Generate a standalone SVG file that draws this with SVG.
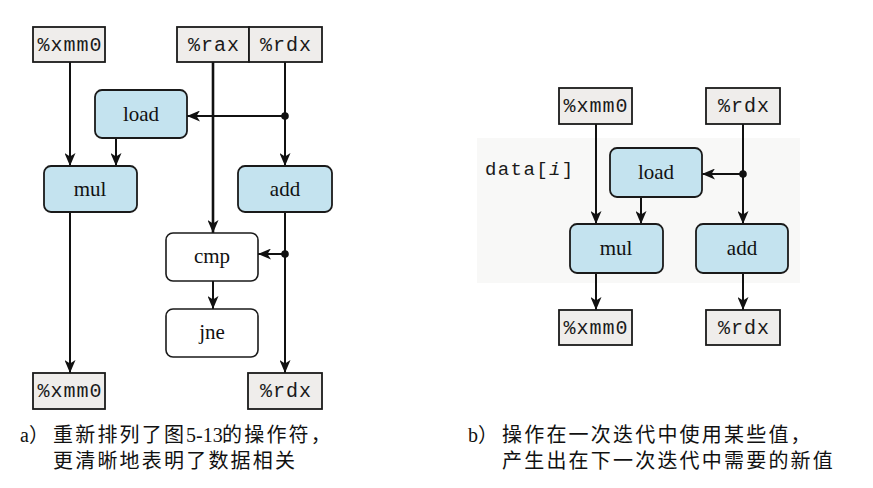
<svg xmlns="http://www.w3.org/2000/svg" width="873" height="488" viewBox="0 0 873 488">
<style>
.reg{fill:#efedeb;stroke:#1a1a1a;stroke-width:1.8}
.op{fill:#c4e3ef;stroke:#1a1a1a;stroke-width:1.8}
.opw{fill:#ffffff;stroke:#1a1a1a;stroke-width:1.6}
.rt{font-family:"Liberation Mono",monospace;font-size:20px;letter-spacing:1px;fill:#1a1a1a;text-anchor:middle}
.ot{font-family:"Liberation Serif",serif;font-size:21px;fill:#111;text-anchor:middle}
.cap{font-family:"Liberation Serif","Noto Sans CJK SC",serif;font-size:20px;fill:#111}
.cj{letter-spacing:2.2px}
.ln{stroke:#111;stroke-width:2;fill:none;marker-end:url(#ah)}
</style>
<defs>
<marker id="ah" viewBox="0 0 13 11" markerWidth="13" markerHeight="11" refX="13" refY="5.5" orient="auto" markerUnits="userSpaceOnUse">
<path d="M0,0 L13,5.5 L0,11 L3.5,5.5 Z" fill="#111"/>
</marker>
</defs>
<rect width="873" height="488" fill="#ffffff"/>
<rect x="477" y="138" width="323" height="145" fill="#f8f8f7"/>

<g id="connectors">
<line class="ln" x1="70" y1="62" x2="70" y2="166"/>
<line class="ln" x1="116" y1="138" x2="116" y2="166"/>
<line class="ln" x1="285" y1="62" x2="285" y2="166"/>
<line class="ln" x1="285" y1="116" x2="187" y2="116"/>
<line class="ln" x1="213" y1="62" x2="213" y2="233" style="stroke-width:2.6"/>
<line class="ln" x1="213" y1="281" x2="213" y2="309"/>
<line class="ln" x1="70" y1="212" x2="70" y2="373"/>
<line class="ln" x1="285" y1="212" x2="285" y2="373"/>
<line class="ln" x1="285" y1="254" x2="258" y2="254"/>
<circle cx="285" cy="116" r="3.8" fill="#111"/>
<circle cx="285" cy="254" r="3.8" fill="#111"/>

<line class="ln" x1="596" y1="124" x2="596" y2="224"/>
<line class="ln" x1="641" y1="197" x2="641" y2="224"/>
<line class="ln" x1="743" y1="124" x2="743" y2="224"/>
<line class="ln" x1="743" y1="174" x2="702" y2="174"/>
<line class="ln" x1="596" y1="273" x2="596" y2="310"/>
<line class="ln" x1="743" y1="273" x2="743" y2="310"/>
<circle cx="743" cy="174" r="3.8" fill="#111"/>
</g>

<g id="a-xmm0-in"><rect class="reg" x="33" y="27" width="72" height="35"/><text class="rt" x="70" y="51">%xmm0</text></g>
<g id="a-rax-in"><rect class="reg" x="177" y="27" width="72" height="35"/><text class="rt" x="214" y="51">%rax</text></g>
<g id="a-rdx-in"><rect class="reg" x="249" y="27" width="73" height="35"/><text class="rt" x="286" y="51">%rdx</text></g>
<g id="a-load"><rect class="op" x="95" y="90" width="92" height="48" rx="7"/><text class="ot" x="141" y="121">load</text></g>
<g id="a-mul"><rect class="op" x="44" y="166" width="93" height="46" rx="7"/><text class="ot" x="90" y="196">mul</text></g>
<g id="a-add"><rect class="op" x="238" y="166" width="94" height="46" rx="7"/><text class="ot" x="285" y="196">add</text></g>
<g id="a-cmp"><rect class="opw" x="166" y="233" width="92" height="48" rx="7"/><text class="ot" x="212" y="263">cmp</text></g>
<g id="a-jne"><rect class="opw" x="166" y="309" width="92" height="48" rx="7"/><text class="ot" x="212" y="339">jne</text></g>
<g id="a-xmm0-out"><rect class="reg" x="33" y="373" width="72" height="36"/><text class="rt" x="70" y="397">%xmm0</text></g>
<g id="a-rdx-out"><rect class="reg" x="248" y="373" width="74" height="36"/><text class="rt" x="286" y="397">%rdx</text></g>

<g id="b-xmm0-in"><rect class="reg" x="559" y="88" width="73" height="36"/><text class="rt" x="596" y="112">%xmm0</text></g>
<g id="b-rdx-in"><rect class="reg" x="706" y="88" width="74" height="36"/><text class="rt" x="744" y="112">%rdx</text></g>
<g id="b-load"><rect class="op" x="610" y="148" width="92" height="49" rx="7"/><text class="ot" x="656" y="179">load</text></g>
<g id="b-mul"><rect class="op" x="570" y="224" width="93" height="49" rx="7"/><text class="ot" x="616" y="255">mul</text></g>
<g id="b-add"><rect class="op" x="696" y="224" width="92" height="49" rx="7"/><text class="ot" x="742" y="255">add</text></g>
<g id="b-xmm0-out"><rect class="reg" x="559" y="310" width="73" height="35"/><text class="rt" x="596" y="334">%xmm0</text></g>
<g id="b-rdx-out"><rect class="reg" x="706" y="310" width="74" height="35"/><text class="rt" x="744" y="334">%rdx</text></g>
<text id="b-data" x="485" y="175" style="font-family:'Liberation Mono',monospace;font-size:19px;letter-spacing:1.4px;fill:#1a1a1a">data[<tspan font-style="italic">i</tspan>]</text>

<g id="captions">
<text class="cap" y="442"><tspan x="20">a）</tspan><tspan class="cj" x="53">重新排列了图</tspan><tspan x="186">5-13</tspan><tspan class="cj" x="222">的操作符，</tspan></text>
<text class="cap cj" x="53" y="468">更清晰地表明了数据相关</text>
<text class="cap" y="442"><tspan x="468">b）</tspan><tspan class="cj" x="502">操作在一次迭代中使用某些值，</tspan></text>
<text class="cap cj" x="502" y="468">产生出在下一次迭代中需要的新值</text>
</g>
</svg>
